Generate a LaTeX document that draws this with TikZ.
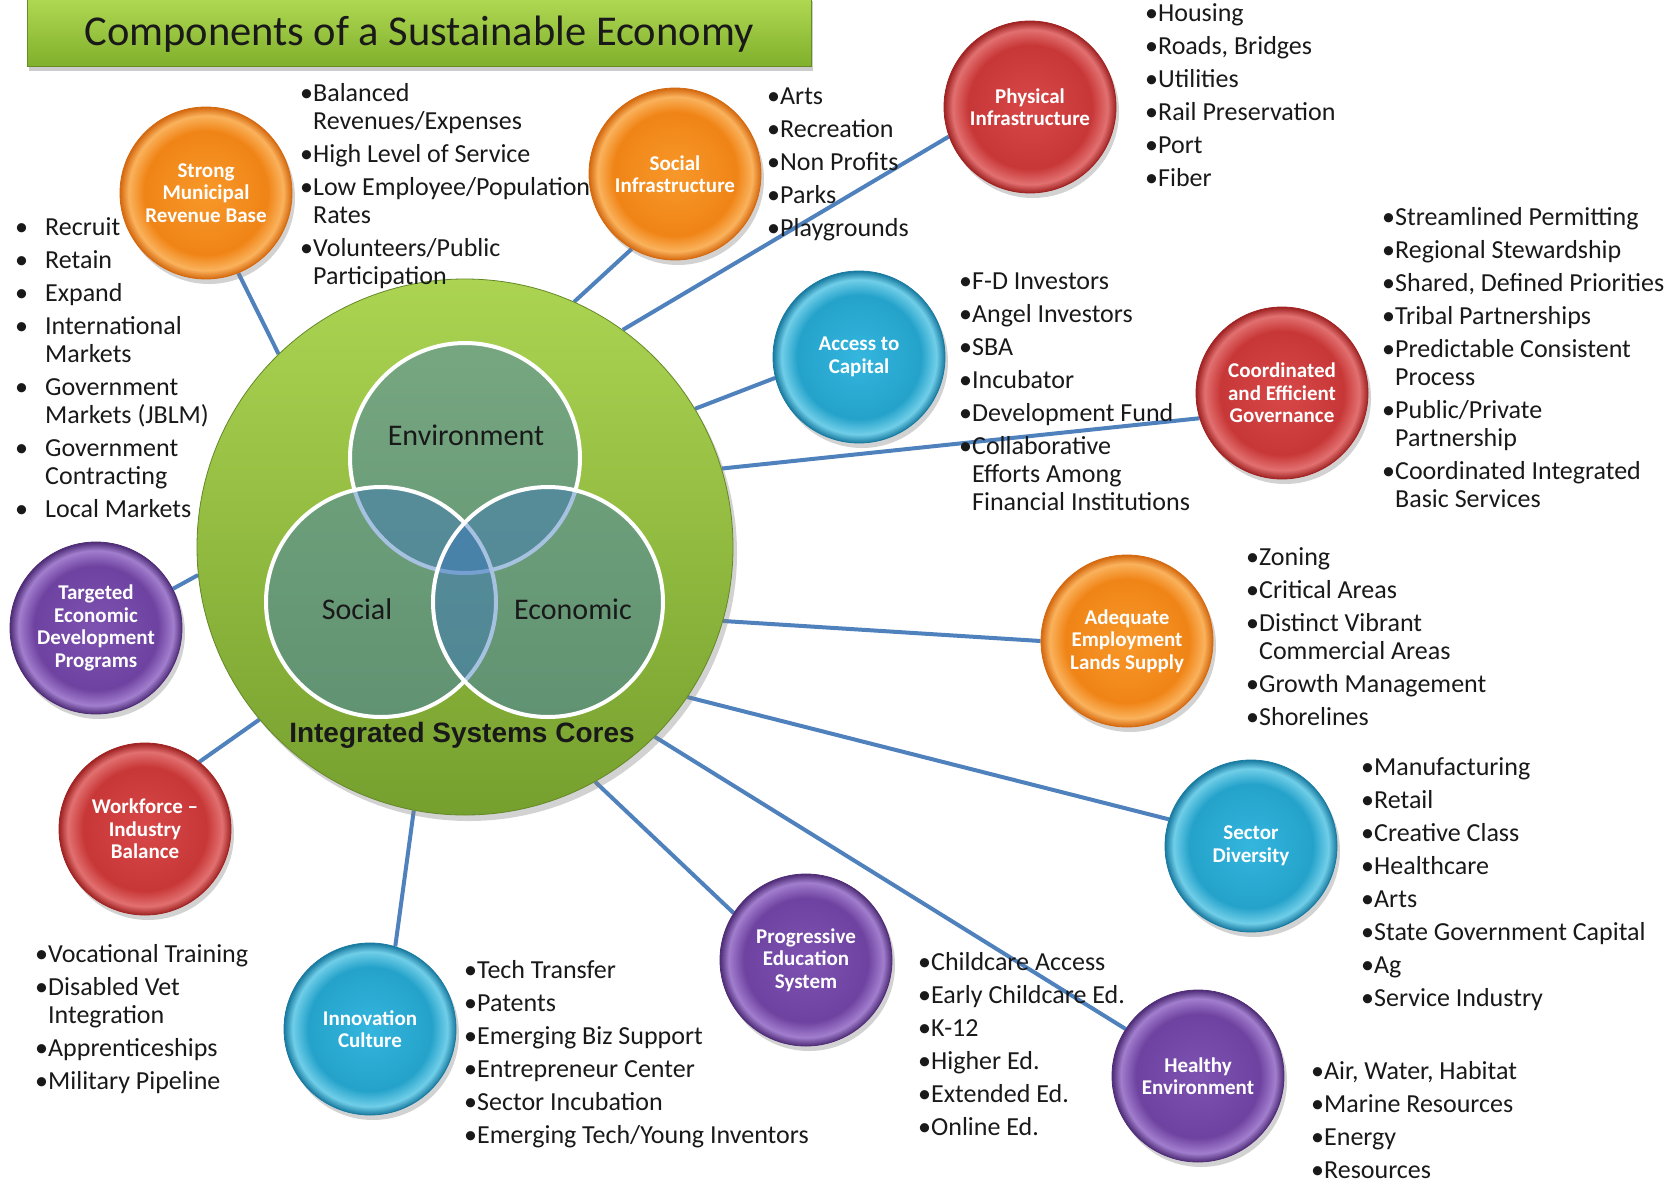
\documentclass[tikz,border=0pt]{standalone}
\usepackage{fontspec}
\setmainfont{Carlito}
\newfontfamily\arialfont{Liberation Sans}
\usetikzlibrary{shadows,backgrounds}

\definecolor{lineblue}{RGB}{79,129,189}
\definecolor{txt}{RGB}{25,25,25}
\definecolor{venncol}{RGB}{60,120,190}
\definecolor{grTop}{RGB}{172,212,82}
\definecolor{grBot}{RGB}{118,160,46}
\definecolor{tiTop}{RGB}{178,218,84}
\definecolor{tiBot}{RGB}{128,176,44}

\definecolor{orA}{RGB}{248,152,42}\definecolor{orB}{RGB}{240,132,22}
\definecolor{orC}{RGB}{250,178,92}\definecolor{orD}{RGB}{212,104,14}
\definecolor{reA}{RGB}{216,72,72}\definecolor{reB}{RGB}{200,55,55}
\definecolor{reC}{RGB}{226,112,112}\definecolor{reD}{RGB}{160,34,34}
\definecolor{blA}{RGB}{52,182,222}\definecolor{blB}{RGB}{36,162,202}
\definecolor{blC}{RGB}{112,206,232}\definecolor{blD}{RGB}{24,122,160}
\definecolor{puA}{RGB}{126,82,176}\definecolor{puB}{RGB}{110,66,160}
\definecolor{puC}{RGB}{162,126,206}\definecolor{puD}{RGB}{78,44,118}

\pgfdeclareradialshading{orball}{\pgfpoint{0bp}{0bp}}{color(0bp)=(orA); color(18bp)=(orB); color(22.5bp)=(orC); color(25bp)=(orD); color(50bp)=(orD)}
\pgfdeclareradialshading{reball}{\pgfpoint{0bp}{0bp}}{color(0bp)=(reA); color(18bp)=(reB); color(22.5bp)=(reC); color(25bp)=(reD); color(50bp)=(reD)}
\pgfdeclareradialshading{blball}{\pgfpoint{0bp}{0bp}}{color(0bp)=(blA); color(18bp)=(blB); color(22.5bp)=(blC); color(25bp)=(blD); color(50bp)=(blD)}
\pgfdeclareradialshading{puball}{\pgfpoint{0bp}{0bp}}{color(0bp)=(puA); color(18bp)=(puB); color(22.5bp)=(puC); color(25bp)=(puD); color(50bp)=(puD)}

\newcommand\bItem[1]{\hbox{•#1}}
\newcommand\bCont[1]{\hbox{\hphantom{•}#1}}
\newcommand\bGap{\vskip5pt}
\newcommand\bList[1]{\vtop{\baselineskip=28pt\lineskiplimit=-50pt\lineskip=0pt\relax #1}}
\newcommand\tItem[1]{\hbox{\hbox to 30pt{•\hfil}#1}}
\newcommand\tCont[1]{\hbox{\hskip30pt #1}}

\begin{document}
\begin{tikzpicture}[x=1pt,y=-1pt,
  bubble/.style={circle, minimum size=172pt, inner sep=0pt, align=center, text=white,
     font=\bfseries\fontsize{21}{22.5}\selectfont, shade, shading=#1ball, draw=#1D, line width=0.8pt,
     drop shadow={opacity=0.35, shadow xshift=3pt, shadow yshift=-5pt}},
  lst/.style={inner sep=0pt, anchor=base west, text=txt, font=\fontsize{26}{28}\selectfont},
  conn/.style={draw=lineblue, line width=4pt},
  venn/.style={circle, minimum size=230pt, inner sep=0pt, fill=venncol, fill opacity=0.45, draw=white, line width=4pt},
  vlab/.style={inner sep=0pt, text=txt, font=\fontsize{30}{36}\selectfont},
  core/.style={circle, minimum size=536pt, inner sep=0pt, top color=grTop, bottom color=grBot,
     draw=grBot!85!black, line width=0.8pt, drop shadow={opacity=0.35, shadow xshift=4pt, shadow yshift=-6pt}},
  titlebox/.style={rectangle, minimum width=784pt, minimum height=70pt, inner sep=0pt,
     top color=tiTop, bottom color=tiBot, draw=tiBot!80!black, line width=0.6pt,
     drop shadow={opacity=0.4, shadow xshift=2pt, shadow yshift=-5pt}}
]
\useasboundingbox (0,0) rectangle (1680,1183);

% title
\node[titlebox] (title) at (419,31) {};
\node[inner sep=0pt, font=\fontsize{42.5}{50}\selectfont, text=txt] (titleT) at (419,34) {Components of a Sustainable Economy};

% core
\node[core] (core) at (465,547) {};
\node[venn] (env) at (465,458) {};
\node[venn] (soc3) at (381,602) {};
\node[venn] (eco) at (548,602) {};
\node[vlab] (envL) at (466,435) {Environment};
\node[vlab] (socL3) at (357,609) {Social};
\node[vlab] (ecoL) at (573,609) {Economic};
\node[inner sep=0pt, text=txt, font=\arialfont\bfseries\fontsize{28}{32}\selectfont] (coreL) at (462,735) {Integrated Systems Cores};

% bubbles
\node[bubble=or] (smb) at (206,193) {Strong\\Municipal\\Revenue Base};
\node[bubble=or] (soc) at (675,174) {Social\\Infrastructure};
\node[bubble=re] (phy) at (1030,107) {Physical\\Infrastructure};
\node[bubble=bl] (acc) at (859,357) {Access to\\Capital};
\node[bubble=re] (gov) at (1282,393) {Coordinated\\and Efficient\\Governance};
\node[bubble=or] (ade) at (1127,641) {Adequate\\Employment\\Lands Supply};
\node[bubble=bl] (sec) at (1251,846) {Sector\\Diversity};
\node[bubble=pu] (hea) at (1198,1076) {Healthy\\Environment};
\node[bubble=pu] (edu) at (806,960) {Progressive\\Education\\System};
\node[bubble=bl] (inn) at (370,1029) {Innovation\\Culture};
\node[bubble=re] (wfb) at (145,829) {Workforce –\\Industry\\Balance};
\node[bubble=pu] (ted) at (96,628) {Targeted\\Economic\\Development\\Programs};

% lists
\node[lst] (leftL) at (15,235) {\bList{\tItem{Recruit}\bGap\tItem{Retain}\bGap\tItem{Expand}\bGap\tItem{International}\tCont{Markets}\bGap\tItem{Government}\tCont{Markets (JBLM)}\bGap\tItem{Government}\tCont{Contracting}\bGap\tItem{Local Markets}}};
\node[lst] (smbL) at (300,101) {\bList{\bItem{Balanced}\bCont{Revenues/Expenses}\bGap\bItem{High Level of Service}\bGap\bItem{Low Employee/Population}\bCont{Rates}\bGap\bItem{Volunteers/Public}\bCont{Participation}}};
\node[lst] (socL) at (767,104) {\bList{\bItem{Arts}\bGap\bItem{Recreation}\bGap\bItem{Non Profits}\bGap\bItem{Parks}\bGap\bItem{Playgrounds}}};
\node[lst] (phyL) at (1145,21) {\bList{\bItem{Housing}\bGap\bItem{Roads, Bridges}\bGap\bItem{Utilities}\bGap\bItem{Rail Preservation}\bGap\bItem{Port}\bGap\bItem{Fiber}}};
\node[lst] (accL) at (959,289) {\bList{\bItem{F-D Investors}\bGap\bItem{Angel Investors}\bGap\bItem{SBA}\bGap\bItem{Incubator}\bGap\bItem{Development Fund}\bGap\bItem{Collaborative}\bCont{Efforts Among}\bCont{Financial Institutions}}};
\node[lst] (govL) at (1382,225) {\bList{\bItem{Streamlined Permitting}\bGap\bItem{Regional Stewardship}\bGap\bItem{Shared, Defined Priorities}\bGap\bItem{Tribal Partnerships}\bGap\bItem{Predictable Consistent}\bCont{Process}\bGap\bItem{Public/Private}\bCont{Partnership}\bGap\bItem{Coordinated Integrated}\bCont{Basic Services}}};
\node[lst] (adeL) at (1246,565) {\bList{\bItem{Zoning}\bGap\bItem{Critical Areas}\bGap\bItem{Distinct Vibrant}\bCont{Commercial Areas}\bGap\bItem{Growth Management}\bGap\bItem{Shorelines}}};
\node[lst] (secL) at (1361,775) {\bList{\bItem{Manufacturing}\bGap\bItem{Retail}\bGap\bItem{Creative Class}\bGap\bItem{Healthcare}\bGap\bItem{Arts}\bGap\bItem{State Government Capital}\bGap\bItem{Ag}\bGap\bItem{Service Industry}}};
\node[lst] (heaL) at (1311,1079) {\bList{\bItem{Air, Water, Habitat}\bGap\bItem{Marine Resources}\bGap\bItem{Energy}\bGap\bItem{Resources}}};
\node[lst] (eduL) at (918,970) {\bList{\bItem{Childcare Access}\bGap\bItem{Early Childcare Ed.}\bGap\bItem{K-12}\bGap\bItem{Higher Ed.}\bGap\bItem{Extended Ed.}\bGap\bItem{Online Ed.}}};
\node[lst] (innL) at (464,978) {\bList{\bItem{Tech Transfer}\bGap\bItem{Patents}\bGap\bItem{Emerging Biz Support}\bGap\bItem{Entrepreneur Center}\bGap\bItem{Sector Incubation}\bGap\bItem{Emerging Tech/Young Inventors}}};
\node[lst] (wfbL) at (35,962) {\bList{\bItem{Vocational Training}\bGap\bItem{Disabled Vet}\bCont{Integration}\bGap\bItem{Apprenticeships}\bGap\bItem{Military Pipeline}}};

% connectors
\begin{pgfonlayer}{background}
\fill[white] (0,0) rectangle (1680,1183);
\draw[conn] (core.134) -- (smb.-68);
\draw[conn] (core.66.6) -- (soc.-120.5);
\draw[conn] (core.54.4) -- (phy.-160.6);
\draw[conn] (core.31.6) -- (acc.-166);
\draw[conn] (core.17.9) -- (gov.-163);
\draw[conn] (core.-16.7) -- (ade.180);
\draw[conn] (core.-34.6) -- (sec.162.5);
\draw[conn] (core.-45.2) -- (hea.147);
\draw[conn] (core.-61.3) -- (edu.147.5);
\draw[conn] (core.-101) -- (inn.73);
\draw[conn] (core.-140.6) -- (wfb.51);
\draw[conn] (core.-174.6) -- (ted.27.5);
\end{pgfonlayer}
\end{tikzpicture}
\end{document}
